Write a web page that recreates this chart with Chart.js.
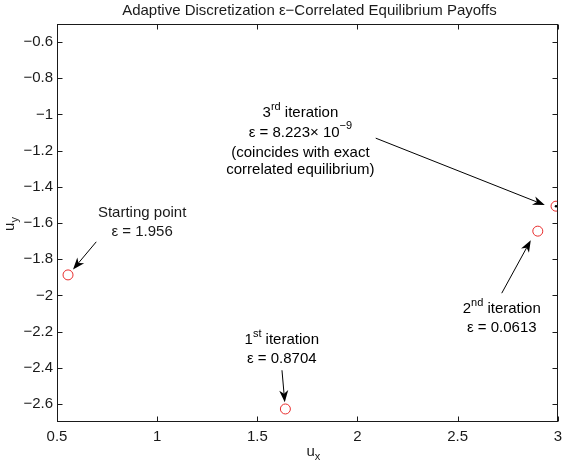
<!DOCTYPE html>
<html><head><meta charset="utf-8">
<script src="https://cdn.jsdelivr.net/npm/chart.js@4/dist/chart.umd.min.js"></script>
<style>html,body{margin:0;padding:0;background:#fff}#wrap{width:568px;height:471px}</style>
</head><body><div id="wrap"><canvas id="c" width="568" height="471"></canvas></div>
<script>
// ---- data ----
const iterations = ['Starting point', '1st iteration', '2nd iteration', '3rd iteration'];
const epsilons = ['1.956', '0.8704', '0.0613', '8.223× 10−9'];
const ux = [0.555, 1.640, 2.900, 2.991];
const uy = [-1.887, -2.628, -1.645, -1.507];
const exactCEx = [2.991];
const exactCEy = [-1.507];
const xTicks = [0.5, 1, 1.5, 2, 2.5, 3];
const yTicks = [-0.6, -0.8, -1, -1.2, -1.4, -1.6, -1.8, -2, -2.2, -2.4, -2.6];
const titleText = 'Adaptive Discretization ε−Correlated Equilibrium Payoffs';

const FONT = "'Liberation Sans', Arial, Helvetica, sans-serif";
const TXT = '#1a1a1a';

// annotation layout (text in data units, arrow from/to in data units)
const annotations = [
  { x: 0.925, lines: [[{t: 'Starting point'}], [{t: 'ε = 1.956'}]], ys: [-1.544, -1.649],
    from: [0.696, -1.704], to: [0.580, -1.857] },
  { x: 1.622, lines: [[{t: '1'}, {t: 'st', sup: true}, {t: ' iteration'}], [{t: 'ε = 0.8704'}]], ys: [-2.248, -2.353],
    from: [1.623, -2.414], to: [1.637, -2.591] },
  { x: 2.720, lines: [[{t: '2'}, {t: 'nd', sup: true}, {t: ' iteration'}], [{t: 'ε = 0.0613'}]], ys: [-2.076, -2.181],
    from: [2.720, -1.988], to: [2.865, -1.695] },
  { x: 1.715, lines: [[{t: '3'}, {t: 'rd', sup: true}, {t: ' iteration'}],
                      [{t: 'ε = 8.223× 10'}, {t: '−9', sup: true}],
                      [{t: '(coincides with exact'}],
                      [{t: 'correlated equilibrium)'}]], ys: [-0.991, -1.101, -1.212, -1.308],
    from: [2.091, -1.131], to: [2.935, -1.501] }
];

function drawRich(ctx, segs, cx, cy, size) {
  let total = 0;
  const ws = segs.map(s => {
    ctx.font = ((s.sup || s.sub) ? Math.round(size * 0.72) : size) + 'px ' + FONT;
    const w = ctx.measureText(s.t).width; total += w; return w;
  });
  let x = cx - total / 2;
  ctx.textAlign = 'left';
  ctx.textBaseline = 'middle';
  segs.forEach((s, i) => {
    ctx.font = ((s.sup || s.sub) ? Math.round(size * 0.72) : size) + 'px ' + FONT;
    ctx.fillText(s.t, x, s.sup ? cy - size * 0.42 : (s.sub ? cy + size * 0.32 : cy));
    x += ws[i];
  });
}

function drawArrow(ctx, x1, y1, x2, y2) {
  const L = 12, W = 4.5, N = 3.5;
  const dx = x2 - x1, dy = y2 - y1, len = Math.hypot(dx, dy);
  const ux_ = dx / len, uy_ = dy / len, nx = -uy_, ny = ux_;
  const bx = x2 - L * ux_, by = y2 - L * uy_;
  ctx.strokeStyle = '#000'; ctx.lineWidth = 1;
  ctx.beginPath(); ctx.moveTo(x1, y1); ctx.lineTo(x2 - (L - N) * ux_, y2 - (L - N) * uy_); ctx.stroke();
  ctx.fillStyle = '#000';
  ctx.beginPath();
  ctx.moveTo(x2, y2);
  ctx.lineTo(bx + W * nx, by + W * ny);
  ctx.lineTo(x2 - (L - N) * ux_, y2 - (L - N) * uy_);
  ctx.lineTo(bx - W * nx, by - W * ny);
  ctx.closePath(); ctx.fill();
}

const decor = {
  id: 'decor',
  afterDraw(chart) {
    const ctx = chart.ctx, a = chart.chartArea, xs = chart.scales.x, ys = chart.scales.y;
    ctx.save();
    const L = Math.round(a.left) + 0.5, R = Math.round(a.right) - 0.5, T = Math.round(a.top) + 0.5, B = Math.round(a.bottom) - 0.5;
    ctx.strokeStyle = '#1a1a1a'; ctx.lineWidth = 1;
    ctx.strokeRect(L, T, R - L, B - T);
    const tl = 5;
    ctx.beginPath();
    xTicks.forEach(v => {
      const p = Math.round(xs.getPixelForValue(v)) + 0.5;
      ctx.moveTo(p, B); ctx.lineTo(p, B - tl);
      ctx.moveTo(p, T); ctx.lineTo(p, T + tl);
    });
    yTicks.forEach(v => {
      const p = Math.round(ys.getPixelForValue(v)) + 0.5;
      ctx.moveTo(L, p); ctx.lineTo(L + tl, p);
      ctx.moveTo(R, p); ctx.lineTo(R - tl, p);
    });
    ctx.stroke();

    ctx.fillStyle = TXT;
    // title
    drawRich(ctx, [{t: titleText}], (a.left + a.right) / 2 + 2, 11, 15);
    // x axis label
    drawRich(ctx, [{t: 'u'}, {t: 'x', sub: true}], (a.left + a.right) / 2 + 6, 452, 15);
    // y axis label (rotated)
    ctx.save();
    ctx.translate(10, 224);
    ctx.rotate(-Math.PI / 2);
    drawRich(ctx, [{t: 'u'}, {t: 'y', sub: true}], 0, 0, 15);
    ctx.restore();

    // annotations
    annotations.forEach(an => {
      const cx = xs.getPixelForValue(an.x);
      an.lines.forEach((segs, i) => drawRich(ctx, segs, cx, ys.getPixelForValue(an.ys[i]), 15));
      drawArrow(ctx, xs.getPixelForValue(an.from[0]), ys.getPixelForValue(an.from[1]),
                xs.getPixelForValue(an.to[0]), ys.getPixelForValue(an.to[1]));
    });
    ctx.restore();
  }
};

new Chart(document.getElementById('c'), {
  type: 'scatter',
  data: {
    datasets: [
      { label: 'iterations', data: ux.map((v, i) => ({x: v, y: uy[i]})),
        pointStyle: 'circle', pointRadius: 5, pointBorderWidth: 1,
        pointBorderColor: 'rgb(232,45,45)', pointBackgroundColor: 'rgba(0,0,0,0)', showLine: false },
      { label: 'exact CE', data: exactCEx.map((v, i) => ({x: v, y: exactCEy[i]})),
        pointStyle: 'circle', pointRadius: 1.3, pointBorderWidth: 0,
        pointBackgroundColor: '#000', pointBorderColor: '#000', showLine: false }
    ]
  },
  options: {
    responsive: false, animation: false, devicePixelRatio: 1,
    layout: { padding: { top: 24, right: 8, left: 0, bottom: 0 } },
    plugins: { legend: { display: false }, tooltip: { enabled: false }, title: { display: false } },
    scales: {
      x: {
        type: 'linear', min: 0.5, max: 3,
        grid: { display: false, drawTicks: false }, border: { display: false },
        afterBuildTicks: s => { s.ticks = xTicks.map(v => ({value: v})); },
        afterFit: s => { s.height = 49; },
        ticks: { padding: 6, color: TXT, font: { family: FONT, size: 15 }, maxRotation: 0, autoSkip: false,
                 callback: v => String(v) }
      },
      y: {
        type: 'linear', min: -2.7, max: -0.5,
        grid: { display: false, drawTicks: false }, border: { display: false },
        afterBuildTicks: s => { s.ticks = yTicks.map(v => ({value: v})); },
        afterFit: s => { s.width = 57; },
        ticks: { padding: 4, color: TXT, font: { family: FONT, size: 15 }, autoSkip: false,
                 callback: v => (v < 0 ? '−' : '') + String(+Math.abs(v).toFixed(1)) }
      }
    }
  },
  plugins: [decor]
});
</script></body></html>
